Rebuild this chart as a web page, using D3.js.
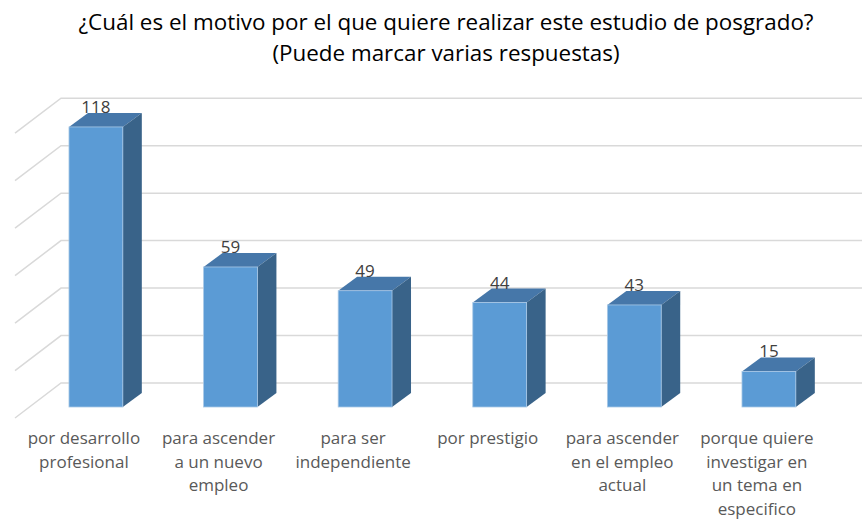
<!DOCTYPE html>
<html>
<head>
<meta charset="utf-8">
<script src="https://cdn.jsdelivr.net/npm/d3@7"></script>
<style>
  body { margin: 0; background: #fff; }
  text { font-family: "Open Sans", "Noto Sans", sans-serif; }
</style>
</head>
<body>
<div id="chart"></div>
<script>
// data
var categories = [
  ["por desarrollo", "profesional"],
  ["para ascender", "a un nuevo", "empleo"],
  ["para ser", "independiente"],
  ["por prestigio"],
  ["para ascender", "en el empleo", "actual"],
  ["porque quiere", "investigar en", "un tema en", "especifico"]
];
var values = [118, 59, 49, 44, 43, 15];
var gridValues = [0, 20, 40, 60, 80, 100, 120];
var titleLines = [
  "¿Cuál es el motivo por el que quiere realizar este estudio de posgrado?",
  "(Puede marcar varias respuestas)"
];

var width = 862, height = 522;

// oblique 3d offsets: bar depth and wall depth
var bar3d = {dx: 19, dy: 14},
    wallBack = {dx: 32, dy: 24},   // from bar front plane to back wall
    wallFront = {dx: -14, dy: 11}; // from bar front plane to floor front edge

var keys = d3.range(values.length);

var xScale = d3.scaleBand()
    .domain(keys)
    .range([28.6, 836.2])
    .paddingInner(0.6)
    .paddingOuter(0.3);

var yScale = d3.scaleLinear()
    .domain([0, 120])
    .range([407, 122.2]);

var svg = d3.select("#chart").append("svg")
    .attr("width", width)
    .attr("height", height);

// title
svg.append("g").selectAll("text")
    .data(titleLines)
  .enter().append("text")
    .attr("x", 446)
    .attr("y", function(d, i) { return 30 + i * 31; })
    .attr("text-anchor", "middle")
    .style("font-size", "22.4px")
    .style("fill", "#000")
    .text(function(d) { return d; });

// gridlines: slanted on the side wall, flat on the back wall
var grid = svg.append("g").attr("class", "grid");
var backX = 15 - wallFront.dx + wallBack.dx;
grid.selectAll("path")
    .data(gridValues)
  .enter().append("path")
    .attr("d", function(v) {
      var y = yScale(v);
      return "M15," + (y + wallFront.dy) +
             "L" + backX + "," + (y - wallBack.dy) +
             "L" + width + "," + (y - wallBack.dy);
    })
    .attr("fill", "none")
    .attr("stroke", "#d9d9d9")
    .attr("stroke-width", 1.5);

// bars
var bars = svg.append("g").selectAll("g")
    .data(values)
  .enter().append("g");

bars.append("path") // top face
    .attr("d", function(v, i) {
      var x0 = xScale(i), x1 = x0 + xScale.bandwidth(), y = yScale(v);
      return "M" + x0 + "," + y + "L" + (x0 + bar3d.dx) + "," + (y - bar3d.dy) +
             "L" + (x1 + bar3d.dx) + "," + (y - bar3d.dy) + "L" + x1 + "," + y + "Z";
    })
    .attr("fill", "#4677a9");

bars.append("path") // side face
    .attr("d", function(v, i) {
      var x1 = xScale(i) + xScale.bandwidth(), y = yScale(v), y0 = yScale(0);
      return "M" + x1 + "," + y + "L" + (x1 + bar3d.dx) + "," + (y - bar3d.dy) +
             "L" + (x1 + bar3d.dx) + "," + (y0 - bar3d.dy) + "L" + x1 + "," + y0 + "Z";
    })
    .attr("fill", "#396389");

bars.append("rect") // front face
    .attr("x", function(v, i) { return xScale(i); })
    .attr("y", function(v) { return yScale(v); })
    .attr("width", xScale.bandwidth())
    .attr("height", function(v) { return yScale(0) - yScale(v); })
    .attr("fill", "#5b9bd5")
    .attr("stroke", "#a9c8e6")
    .attr("stroke-width", 0.8);

// value labels
bars.append("text")
    .attr("x", function(v, i) { return xScale(i) + xScale.bandwidth() / 2; })
    .attr("y", function(v) { return yScale(v) - 14; })
    .attr("text-anchor", "middle")
    .style("font-size", "17px")
    .style("fill", "#404040")
    .text(function(v) { return v; });

// category labels
var labels = svg.append("g").selectAll("text")
    .data(categories)
  .enter().append("text")
    .attr("text-anchor", "middle")
    .style("font-size", "17px")
    .style("fill", "#595959");

labels.selectAll("tspan")
    .data(function(d, i) { return d.map(function(line) { return {line: line, i: i}; }); })
  .enter().append("tspan")
    .attr("x", function(d) { return xScale(d.i) + xScale.bandwidth() / 2 - 12; })
    .attr("y", function(d, j) { return 444 + j * 23.6; })
    .text(function(d) { return d.line; });
</script>
</body>
</html>
